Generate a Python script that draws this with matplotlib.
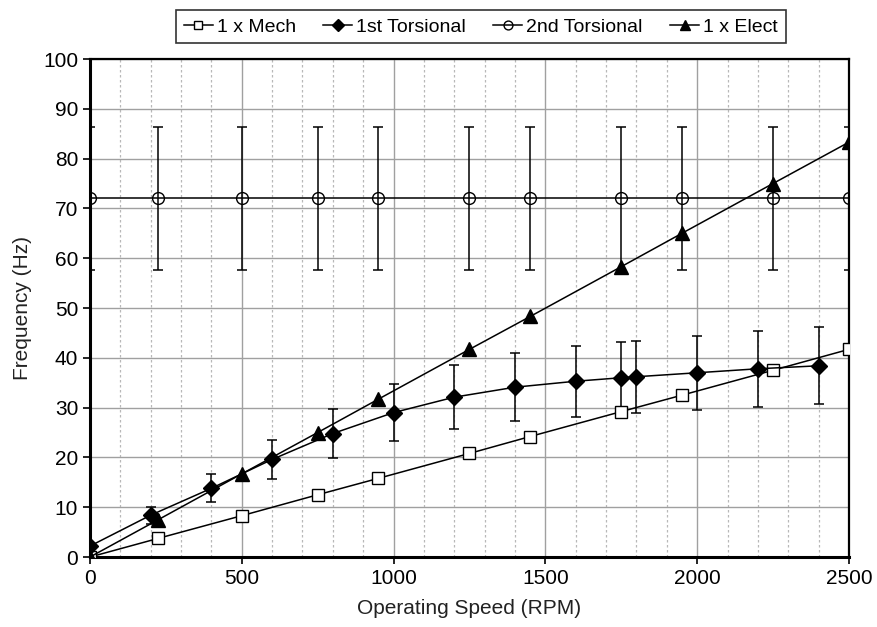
import matplotlib.pyplot as plt
import numpy as np

plt.rcParams['font.family'] = ['Liberation Sans', 'DejaVu Sans']

# 1 x Mech
mech_rpm = [0, 225, 500, 750, 950, 1250, 1450, 1750, 1950, 2250, 2500]
mech_hz = [0, 3.75, 8.3, 12.5, 15.8, 20.8, 24.2, 29.2, 32.5, 37.5, 41.7]

# 1st Torsional
tor1_rpm = [0, 200, 400, 600, 800, 1000, 1200, 1400, 1600, 1750, 1800, 2000, 2200, 2400]
tor1_hz = [2.2, 8.4, 13.8, 19.6, 24.8, 29.0, 32.1, 34.1, 35.3, 36.0, 36.2, 37.0, 37.8, 38.4]
tor1_err = [0.4, 1.7, 2.8, 3.9, 5.0, 5.8, 6.4, 6.8, 7.1, 7.2, 7.2, 7.4, 7.6, 7.7]

# 2nd Torsional
tor2_rpm = [0, 225, 500, 750, 950, 1250, 1450, 1750, 1950, 2250, 2500]
tor2_hz = [72, 72, 72, 72, 72, 72, 72, 72, 72, 72, 72]
tor2_err = [14.4, 14.4, 14.4, 14.4, 14.4, 14.4, 14.4, 14.4, 14.4, 14.4, 14.4]

# 1 x Elect
elec_rpm = [0, 225, 500, 750, 950, 1250, 1450, 1750, 1950, 2250, 2500]
elec_hz = [0, 7.5, 16.7, 25.0, 31.7, 41.7, 48.3, 58.3, 65.0, 75.0, 83.3]

fig = plt.figure(figsize=(8.77, 6.27), dpi=100)
ax = fig.add_axes([0.1026, 0.1116, 0.8654, 0.7943])

# error bars first, without markers
ax.errorbar(tor1_rpm, tor1_hz, yerr=tor1_err, fmt='none', ecolor='black',
            elinewidth=1.1, capsize=3.5, capthick=1.1, zorder=2)
ax.errorbar(tor2_rpm, tor2_hz, yerr=tor2_err, fmt='none', ecolor='black',
            elinewidth=1.1, capsize=3.5, capthick=1.1, zorder=2)

ax.plot(mech_rpm, mech_hz, color='black', lw=1.1, marker='s', ms=8,
        mfc='white', mec='black', mew=1.0, label='1 x Mech', zorder=3)
ax.plot(tor1_rpm, tor1_hz, color='black', lw=1.1, marker='D', ms=8,
        mfc='black', mec='black', label='1st Torsional', zorder=3)
ax.plot(tor2_rpm, tor2_hz, color='black', lw=1.1, marker='o', ms=8.5,
        mfc='none', mec='black', mew=1.0, label='2nd Torsional', zorder=3)
ax.plot(elec_rpm, elec_hz, color='black', lw=1.1, marker='^', ms=9.5,
        mfc='black', mec='black', label='1 x Elect', zorder=3)

ax.set_xlim(0, 2500)
ax.set_ylim(0, 100)
ax.set_xticks(np.arange(0, 2501, 500))
ax.set_yticks(np.arange(0, 101, 10))
ax.set_xticks(np.arange(0, 2501, 100), minor=True)
ax.tick_params(axis='x', which='minor', length=0)
ax.tick_params(axis='both', which='major', direction='out', length=5,
               width=1.2, labelsize=15, colors='black')

ax.grid(which='major', axis='y', color='#a0a0a0', lw=1.0, ls='-')
ax.grid(which='minor', axis='x', color='#b8b8b8', lw=0.9, ls=(0, (2, 2)))
ax.grid(which='major', axis='x', color='#a0a0a0', lw=1.0, ls='-')
ax.set_axisbelow(True)

for side in ['left', 'bottom']:
    ax.spines[side].set_linewidth(2.2)
for side in ['top', 'right']:
    ax.spines[side].set_linewidth(1.6)

ax.set_xlabel('Operating Speed (RPM)', fontsize=15, color='#222222', labelpad=8)
ax.set_ylabel('Frequency (Hz)', fontsize=15, color='#222222', labelpad=8)

leg = ax.legend(loc='lower center', bbox_to_anchor=(0.515, 1.012), ncol=4,
                fontsize=14, frameon=True, fancybox=False, handlelength=1.5,
                handletextpad=0.2, columnspacing=1.4, borderpad=0.4,
                markerscale=0.75)
leg.get_frame().set_edgecolor('black')
leg.get_frame().set_linewidth(1.2)

plt.savefig('out.png', dpi=100)
